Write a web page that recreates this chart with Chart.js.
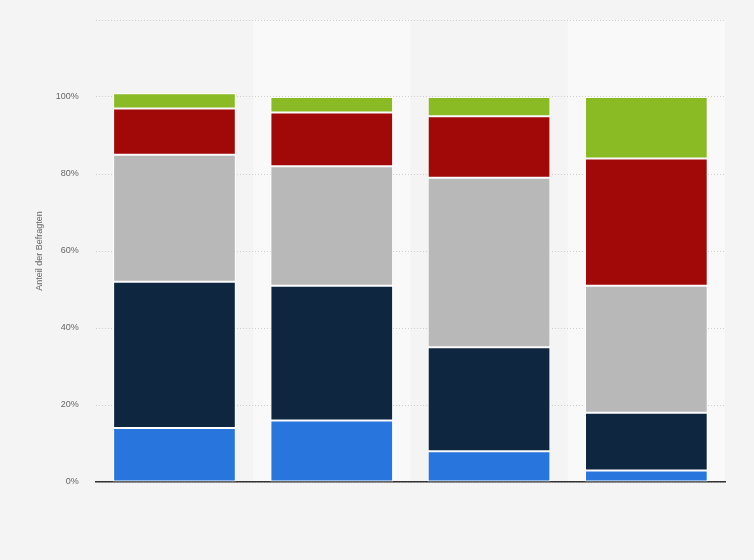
<!DOCTYPE html>
<html>
<head>
<meta charset="utf-8">
<script src="https://cdn.jsdelivr.net/npm/chart.js@4"></script>
<style>
  html, body { margin: 0; padding: 0; background: #f4f4f4; }
  #wrap { width: 754px; height: 560px; }
</style>
</head>
<body>
<div id="wrap"><canvas id="chart"></canvas></div>
<script>
// categories (no labels shown in the picture)
const categories = ["", "", "", ""];

// stacked shares in percent, bottom to top
const blueValues = [14, 16, 8, 3];
const navyValues = [38, 35, 27, 15];
const grayValues = [33, 31, 44, 33];
const redValues = [12, 14, 16, 33];
const greenValues = [4, 4, 5, 16];

const yTicks = [0, 20, 40, 60, 80, 100];

// alternating column shading behind the bars
const bandPlugin = {
  id: "bands",
  beforeDraw(chart) {
    const { ctx, chartArea, scales } = chart;
    const x = scales.x;
    const step = x.getPixelForValue(1) - x.getPixelForValue(0);
    ctx.save();
    ctx.fillStyle = "#f9f9f9";
    categories.forEach((c, i) => {
      if (i % 2 === 1) {
        const cx = x.getPixelForValue(i);
        ctx.fillRect(cx - step / 2, chartArea.top, step, chartArea.bottom - chartArea.top);
      }
    });
    ctx.restore();
  }
};

function series(data, color) {
  return {
    data: data,
    backgroundColor: color,
    borderColor: "#ffffff",
    borderWidth: 1,
    borderSkipped: false,
    categoryPercentage: 0.78,
    barPercentage: 1,
  };
}

new Chart(document.getElementById("chart"), {
  type: "bar",
  data: {
    labels: categories,
    datasets: [
      series(blueValues, "#2876dd"),
      series(navyValues, "#0f2640"),
      series(grayValues, "#b8b8b8"),
      series(redValues, "#a10808"),
      series(greenValues, "#8aba24"),
    ],
  },
  plugins: [bandPlugin],
  options: {
    responsive: true,
    maintainAspectRatio: false,
    animation: false,
    layout: { padding: { left: 34, right: 29, top: 20, bottom: 70 } },
    plugins: {
      legend: { display: false },
      tooltip: { enabled: false },
    },
    scales: {
      x: {
        stacked: true,
        grid: { display: false },
        border: { color: "#333333", width: 1.5 },
        ticks: { display: false },
      },
      y: {
        stacked: true,
        min: 0,
        max: 120,
        afterBuildTicks(axis) {
          axis.ticks = yTicks.concat([120]).map(v => ({ value: v }));
        },
        grid: {
          color: "#cfcfcf",
          drawTicks: true,
          tickLength: 6,
          tickColor: "rgba(0,0,0,0)",
          lineWidth: 1,
        },
        border: { display: false, dash: [1, 2] },
        ticks: {
          padding: 11,
          color: "#666666",
          font: { family: "Liberation Sans", size: 9 },
          callback: v => (yTicks.includes(v) ? v + "%" : ""),
        },
        title: {
          display: true,
          text: "Anteil der Befragten",
          color: "#666666",
          font: { family: "Liberation Sans", size: 9 },
          padding: { top: 0, bottom: 0 },
        },
      },
    },
  },
});
</script>
</body>
</html>
